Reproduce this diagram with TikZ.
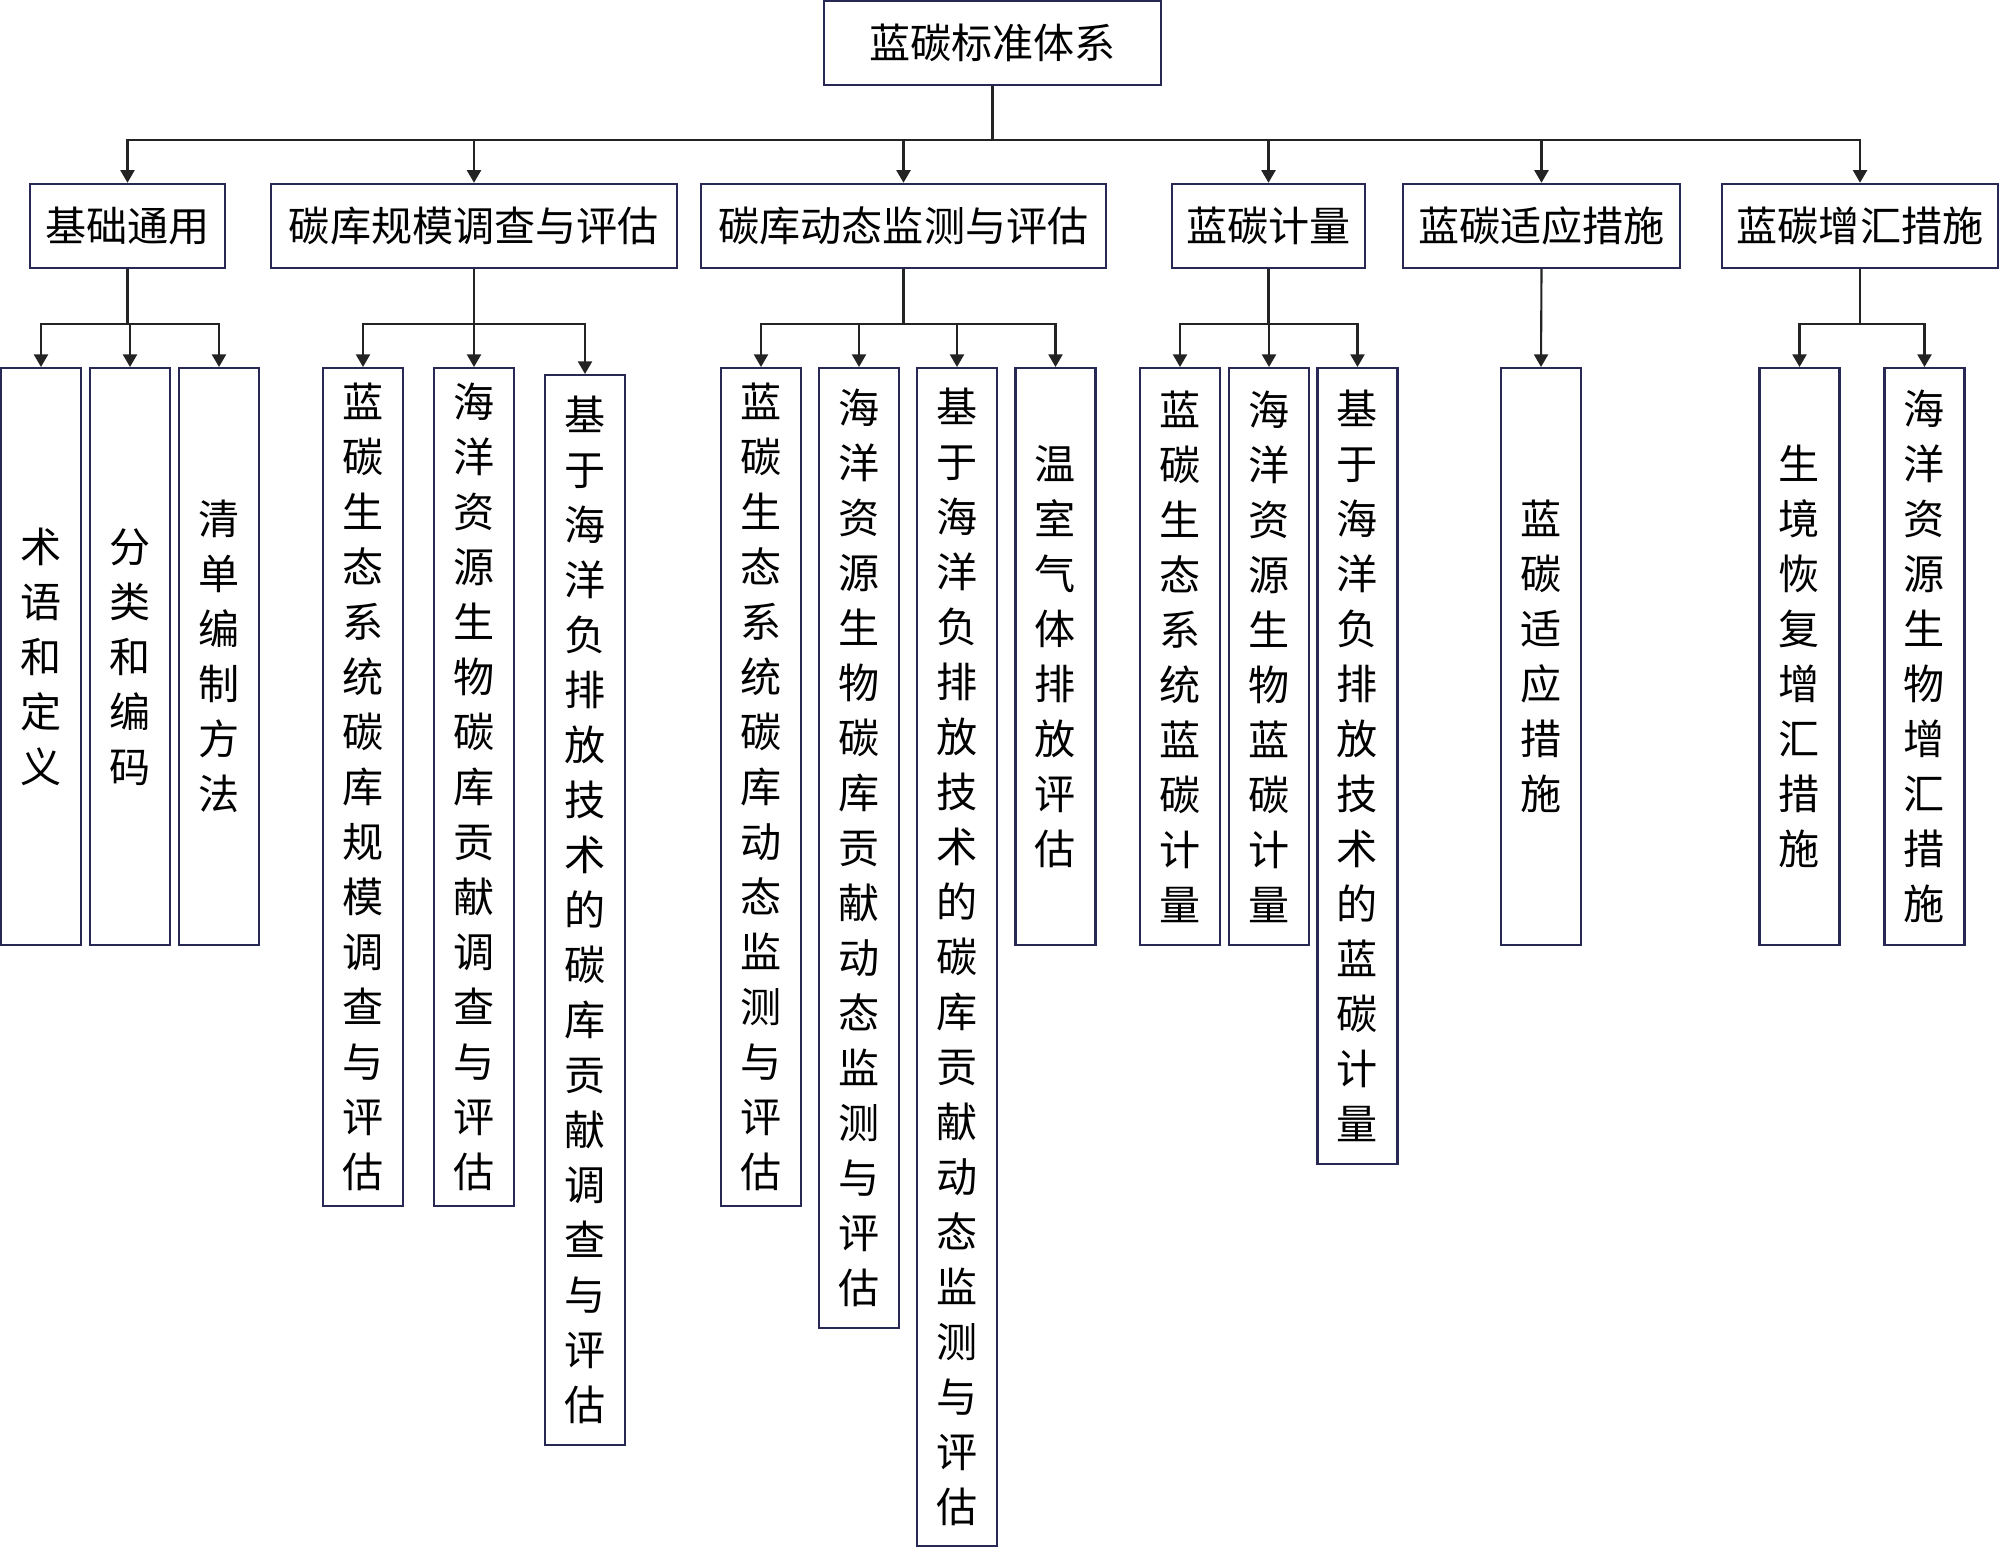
\documentclass[tikz,border=0pt]{standalone}
\usepackage{fontspec}
\setmainfont{Noto Sans CJK SC}
\usepackage{xcolor}
\usepackage{tikz}
\usetikzlibrary{arrows.meta}

\definecolor{boxline}{RGB}{40,40,85}
\definecolor{linkline}{RGB}{35,35,35}

\begin{document}
\begin{tikzpicture}[
    box/.style={rectangle, draw=boxline, line width=0.7pt, inner sep=0pt, text centered, font=\fontsize{11.7pt}{15.65pt}\selectfont},
    topbox/.style={box, minimum height=0.84cm},
    leaf/.style={box, anchor=north, minimum width=0.8cm, align=center},
    arr/.style={-{Triangle[length=3.6pt, width=4pt]}, draw=linkline, line width=0.6pt}
]
\useasboundingbox (0,0) rectangle (20,-15.47);

% Root
\node[topbox, minimum width=3.37cm] (root) at (9.925,-0.43) {蓝碳标准体系};

% Level 1
\node[topbox, minimum width=1.95cm] (base) at (1.275,-2.26) {基础通用};
\node[topbox, minimum width=4.06cm] (scale) at (4.74,-2.26) {碳库规模调查与评估};
\node[topbox, minimum width=4.05cm] (dyn) at (9.035,-2.26) {碳库动态监测与评估};
\node[topbox, minimum width=1.93cm] (meas) at (12.685,-2.26) {蓝碳计量};
\node[topbox, minimum width=2.77cm] (adapt) at (15.415,-2.26) {蓝碳适应措施};
\node[topbox, minimum width=2.76cm] (sink) at (18.60,-2.26) {蓝碳增汇措施};

% Leaves: base
\node[leaf, minimum height=5.77cm] (base1) at (0.41,-3.67) {术\\语\\和\\定\\义};
\node[leaf, minimum height=5.77cm] (base2) at (1.30,-3.67) {分\\类\\和\\编\\码};
\node[leaf, minimum height=5.77cm] (base3) at (2.19,-3.67) {清\\单\\编\\制\\方\\法};

% Leaves: scale
\node[leaf, minimum height=8.38cm] (scale1) at (3.63,-3.67) {蓝\\碳\\生\\态\\系\\统\\碳\\库\\规\\模\\调\\查\\与\\评\\估};
\node[leaf, minimum height=8.38cm] (scale2) at (4.74,-3.67) {海\\洋\\资\\源\\生\\物\\碳\\库\\贡\\献\\调\\查\\与\\评\\估};
\node[leaf, minimum height=10.70cm] (scale3) at (5.85,-3.74) {基\\于\\海\\洋\\负\\排\\放\\技\\术\\的\\碳\\库\\贡\\献\\调\\查\\与\\评\\估};

% Leaves: dyn
\node[leaf, minimum height=8.38cm] (dyn1) at (7.61,-3.67) {蓝\\碳\\生\\态\\系\\统\\碳\\库\\动\\态\\监\\测\\与\\评\\估};
\node[leaf, minimum height=9.60cm] (dyn2) at (8.59,-3.67) {海\\洋\\资\\源\\生\\物\\碳\\库\\贡\\献\\动\\态\\监\\测\\与\\评\\估};
\node[leaf, minimum height=11.78cm] (dyn3) at (9.57,-3.67) {基\\于\\海\\洋\\负\\排\\放\\技\\术\\的\\碳\\库\\贡\\献\\动\\态\\监\\测\\与\\评\\估};
\node[leaf, minimum height=5.77cm] (dyn4) at (10.555,-3.67) {温\\室\\气\\体\\排\\放\\评\\估};

% Leaves: meas
\node[leaf, minimum height=5.77cm] (meas1) at (11.80,-3.67) {蓝\\碳\\生\\态\\系\\统\\蓝\\碳\\计\\量};
\node[leaf, minimum height=5.77cm] (meas2) at (12.69,-3.67) {海\\洋\\资\\源\\生\\物\\蓝\\碳\\计\\量};
\node[leaf, minimum height=7.96cm] (meas3) at (13.575,-3.67) {基\\于\\海\\洋\\负\\排\\放\\技\\术\\的\\蓝\\碳\\计\\量};

% Leaves: adapt
\node[leaf, minimum height=5.77cm] (adapt1) at (15.41,-3.67) {蓝\\碳\\适\\应\\措\\施};

% Leaves: sink
\node[leaf, minimum height=5.77cm] (sink1) at (17.995,-3.67) {生\\境\\恢\\复\\增\\汇\\措\\施};
\node[leaf, minimum height=5.77cm] (sink2) at (19.245,-3.67) {海\\洋\\资\\源\\生\\物\\增\\汇\\措\\施};

% Arrows: root to level 1
\draw[arr] (root.south) -- ++(0,-0.54) -| (base.north);
\draw[arr] (root.south) -- ++(0,-0.54) -| (scale.north);
\draw[arr] (root.south) -- ++(0,-0.54) -| (dyn.north);
\draw[arr] (root.south) -- ++(0,-0.54) -| (meas.north);
\draw[arr] (root.south) -- ++(0,-0.54) -| (adapt.north);
\draw[arr] (root.south) -- ++(0,-0.54) -| (sink.north);

% Arrows: level 1 to leaves
\draw[arr] (base.south) -- ++(0,-0.55) -| (base1.north);
\draw[arr] (base.south) -- ++(0,-0.55) -| (base2.north);
\draw[arr] (base.south) -- ++(0,-0.55) -| (base3.north);
\draw[arr] (scale.south) -- ++(0,-0.55) -| (scale1.north);
\draw[arr] (scale.south) -- ++(0,-0.55) -| (scale2.north);
\draw[arr] (scale.south) -- ++(0,-0.55) -| (scale3.north);
\draw[arr] (dyn.south) -- ++(0,-0.55) -| (dyn1.north);
\draw[arr] (dyn.south) -- ++(0,-0.55) -| (dyn2.north);
\draw[arr] (dyn.south) -- ++(0,-0.55) -| (dyn3.north);
\draw[arr] (dyn.south) -- ++(0,-0.55) -| (dyn4.north);
\draw[arr] (meas.south) -- ++(0,-0.55) -| (meas1.north);
\draw[arr] (meas.south) -- ++(0,-0.55) -| (meas2.north);
\draw[arr] (meas.south) -- ++(0,-0.55) -| (meas3.north);
\draw[arr] (adapt.south) -- (adapt1.north);
\draw[arr] (sink.south) -- ++(0,-0.55) -| (sink1.north);
\draw[arr] (sink.south) -- ++(0,-0.55) -| (sink2.north);

\end{tikzpicture}
\end{document}
